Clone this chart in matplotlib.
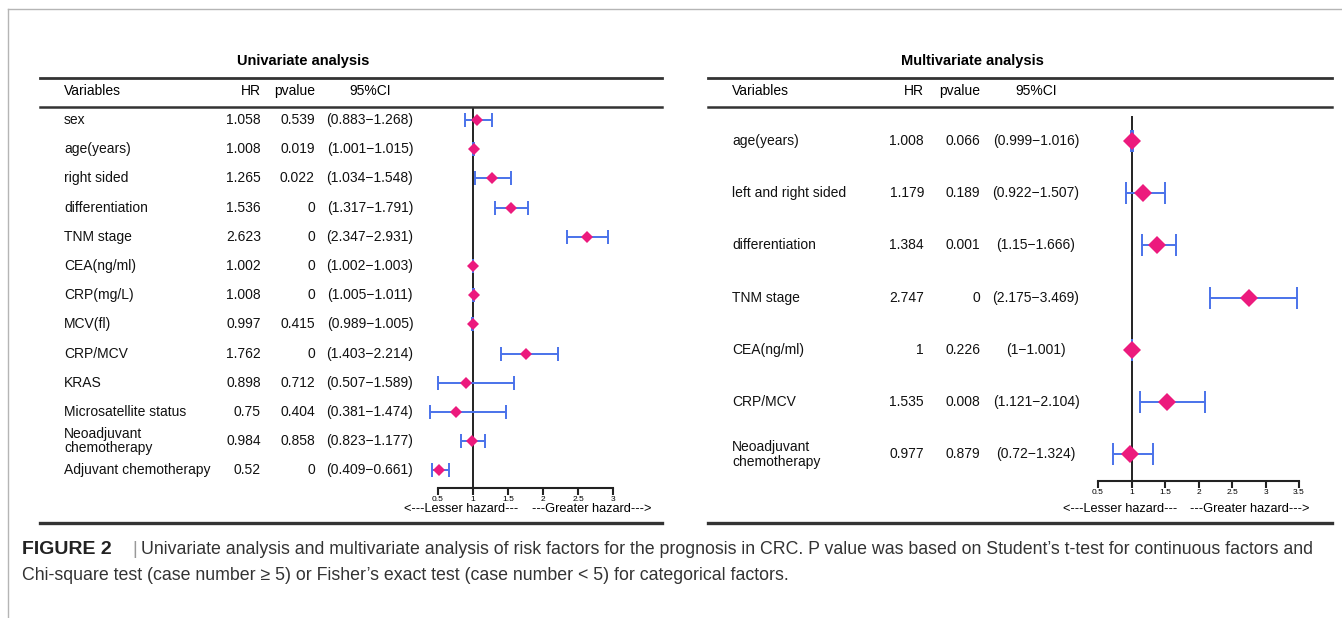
import matplotlib
matplotlib.use("Agg")
import matplotlib.pyplot as plt
import matplotlib.transforms as mtransforms
from matplotlib.lines import Line2D
import numpy as np

# ---- data -------------------------------------------------------------
uni_vars = ['sex', 'age(years)', 'right sided', 'differentiation', 'TNM stage',
            'CEA(ng/ml)', 'CRP(mg/L)', 'MCV(fl)', 'CRP/MCV', 'KRAS',
            'Microsatellite status', 'Neoadjuvant\nchemotherapy', 'Adjuvant chemotherapy']
uni_hr = [1.058, 1.008, 1.265, 1.536, 2.623, 1.002, 1.008, 0.997, 1.762, 0.898, 0.75, 0.984, 0.52]
uni_p = [0.539, 0.019, 0.022, 0, 0, 0, 0, 0.415, 0, 0.712, 0.404, 0.858, 0]
uni_lo = [0.883, 1.001, 1.034, 1.317, 2.347, 1.002, 1.005, 0.989, 1.403, 0.507, 0.381, 0.823, 0.409]
uni_hi = [1.268, 1.015, 1.548, 1.791, 2.931, 1.003, 1.011, 1.005, 2.214, 1.589, 1.474, 1.177, 0.661]
uni_ticks = [0.5, 1, 1.5, 2, 2.5, 3]

multi_vars = ['age(years)', 'left and right sided', 'differentiation', 'TNM stage',
              'CEA(ng/ml)', 'CRP/MCV', 'Neoadjuvant\nchemotherapy']
multi_hr = [1.008, 1.179, 1.384, 2.747, 1, 1.535, 0.977]
multi_p = [0.066, 0.189, 0.001, 0, 0.226, 0.008, 0.879]
multi_lo = [0.999, 0.922, 1.15, 2.175, 1, 1.121, 0.72]
multi_hi = [1.016, 1.507, 1.666, 3.469, 1.001, 2.104, 1.324]
multi_ticks = [0.5, 1, 1.5, 2, 2.5, 3, 3.5]

caption1 = ("Univariate analysis and multivariate analysis of risk factors for the prognosis in CRC. "
            "P value was based on Student\u2019s t-test for continuous factors and")
caption2 = ("Chi-square test (case number \u2265 5) or Fisher\u2019s exact test (case number < 5) "
            "for categorical factors.")

# ---- figure -----------------------------------------------------------
plt.rcParams['font.family'] = ['Liberation Sans', 'DejaVu Sans']
W, H = 1342, 618
fig = plt.figure(figsize=(W / 100, H / 100), dpi=100)


def fx(p):
    return p / W


def fy(p):
    return 1 - p / H


def hline(x0, x1, y, lw=2.0, color='#333333'):
    fig.add_artist(Line2D([fx(x0), fx(x1)], [fy(y), fy(y)], lw=lw, color=color,
                          transform=fig.transFigure))


# outer frame (top + left)
fig.add_artist(Line2D([fx(8), fx(W)], [fy(9), fy(9)], lw=1, color='#b5b5b5', transform=fig.transFigure))
fig.add_artist(Line2D([fx(8), fx(8)], [fy(9), 0], lw=1, color='#b5b5b5', transform=fig.transFigure))

PINK = '#ec1a7d'
BLUE = '#4a72ea'


def panel(title, names, hr, p, lo, hi, ticks, cfg):
    x0, x1 = cfg['table']
    ax = fig.add_axes([fx(cfg['ax_l']), fy(cfg['ax_b']), fx(cfg['ax_r']) - fx(cfg['ax_l']),
                       (cfg['ax_b'] - cfg['ax_t']) / H])
    rows = np.arange(len(names))
    hr = np.array(hr)
    lo = np.array(lo)
    hi = np.array(hi)
    ax.set_xlim(ticks[0], ticks[-1])
    r0, dr = cfg['row0'], cfg['dr']
    ax.set_ylim((cfg['ax_b'] - r0) / dr, (cfg['ax_t'] - r0) / dr)
    ax.axvline(1, color='#222222', lw=1.4, zorder=1)
    ax.errorbar(hr, rows, xerr=[hr - lo, hi - hr], fmt='none', ecolor=BLUE,
                elinewidth=1.4, capsize=cfg['cap'], capthick=1.4, zorder=2, clip_on=False)
    ax.plot(hr, rows, 'D', color=PINK, ms=cfg['ms'], mew=0, zorder=3, clip_on=False)
    for s in ['left', 'right', 'top']:
        ax.spines[s].set_visible(False)
    ax.spines['bottom'].set_linewidth(1.5)
    ax.spines['bottom'].set_color('#222222')
    ax.set_yticks([])
    ax.set_xticks(ticks, ['%g' % t for t in ticks])
    ax.tick_params(axis='x', length=5, width=1.5, labelsize=6, pad=1, color='#222222')
    ax.patch.set_alpha(0)

    tr = mtransforms.blended_transform_factory(fig.transFigure, ax.transData)
    c = cfg['cols']
    for i in rows:
        fig.text(fx(c[0]), i, names[i], transform=tr, ha='left', va='center', fontsize=10,
                 linespacing=cfg['ls'], color='#111111')
        fig.text(fx(c[1]), i, '%g' % hr[i], transform=tr, ha='right', va='center', fontsize=10,
                 color='#111111')
        fig.text(fx(c[2]), i, '%g' % p[i], transform=tr, ha='right', va='center', fontsize=10,
                 color='#111111')
        fig.text(fx(c[3]), i, '(%g\u2212%g)' % (lo[i], hi[i]), transform=tr, ha='center',
                 va='center', fontsize=10, color='#111111')

    # headers
    fig.text(fx(c[0]), fy(91), 'Variables', ha='left', va='center', fontsize=10)
    fig.text(fx(c[1]), fy(91), 'HR', ha='right', va='center', fontsize=10)
    fig.text(fx(c[2]), fy(91), 'pvalue', ha='right', va='center', fontsize=10)
    fig.text(fx(c[3]), fy(91), '95%CI', ha='center', va='center', fontsize=10)
    fig.text(fx(cfg['title_x']), fy(61), title, ha='center', va='center', fontsize=10.5,
             fontweight='bold')
    hline(x0, x1, 78, lw=2.0)
    hline(x0, x1, 107, lw=1.8)
    hline(x0, x1, 523, lw=2.4)
    hz = cfg['hz']
    fig.text(fx(hz[0]), fy(509), '<---Lesser hazard---', ha='center', va='center', fontsize=9.2)
    fig.text(fx(hz[1]), fy(509), '---Greater hazard--->', ha='center', va='center', fontsize=9.2)
    return ax


panel('Univariate analysis', uni_vars, uni_hr, uni_p, uni_lo, uni_hi, uni_ticks,
      dict(table=(40, 662), ax_l=438, ax_r=613, ax_t=107, ax_b=488, row0=120, dr=29.2,
           cols=(64, 261, 315, 370), cap=5, ms=6.2, ls=0.95, hz=(461, 592), title_x=303))
panel('Multivariate analysis', multi_vars, multi_hr, multi_p, multi_lo, multi_hi, multi_ticks,
      dict(table=(708, 1332), ax_l=1098, ax_r=1299, ax_t=116, ax_b=481, row0=141, dr=52.2,
           cols=(732, 924, 980, 1036), cap=8, ms=9.2, ls=1.1, hz=(1120, 1250), title_x=972))

# caption
fig.text(fx(22), fy(550), 'FIGURE 2', ha='left', va='center', fontsize=14, fontweight='bold',
         color='#222222')
fig.text(fx(132), fy(550), '|', ha='left', va='center', fontsize=12.8, color='#999999')
fig.text(fx(141), fy(550), caption1, ha='left', va='center', fontsize=12.8, color='#333333')
fig.text(fx(22), fy(576), caption2, ha='left', va='center', fontsize=12.8, color='#333333')

fig.savefig('out.png', dpi=100)
